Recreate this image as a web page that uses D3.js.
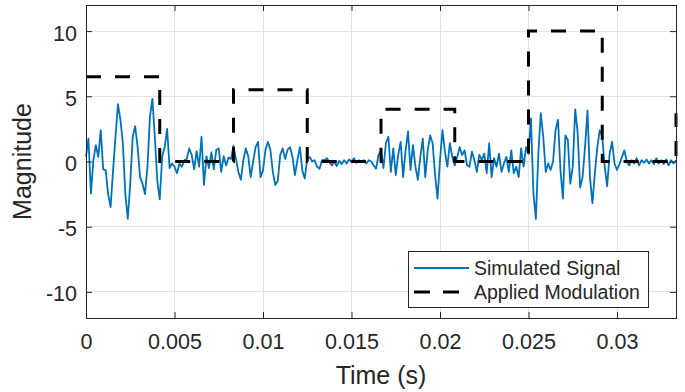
<!DOCTYPE html>
<html>
<head>
<meta charset="utf-8">
<script src="https://cdn.jsdelivr.net/npm/d3@7"></script>
<style>
  body { margin: 0; background: #fff; }
  svg text { font-family: "Liberation Sans", Arial, sans-serif; fill: #262626; }
</style>
</head>
<body>
<div id="chart"></div>
<script>
// ---- data ----
var sampleRate = 7200; // samples per second
var signal = [
  0.36, 1.76, -2.46, 0.1, 1.25, 0.36, 2.4, -0.6, -0.66, -2.5,
  -3.5, -0.7, 1.9, 4.4, 3.2, 1.4, -2.5, -4.4, -1.7, 1.9,
  2.7, 1.1, -1.2, -1.7, -2.5, -0.4, 3.4, 4.8, 1.9, -1.5,
  -2.9, 0.4, 1.1, 2.5, -0.5, -0.15, -0.4, -0.9, -0.15, -0.4,
  0.1, 0.2, 1.0, 0.5, -0.6, 0.8, -0.4, 1.9, -1.8, 0.4,
  -0.5, 0.7, -0.6, 0.9, 1.0, -0.8, 0.4, -0.3, 0.3, 0.2,
  1.2, 0.2, -0.8, -1.4, 0.1, 1.0, 0.4, -1.2, 0.0, 1.1,
  1.5, -1.2, -0.7, 0.9, 1.5, 0.9, -0.8, -1.8, -1.5, 0.5,
  1.0, 0.2, 0.9, 1.1, 0.35, -1.05, 0.1, 1.1, -0.7, -1.3,
  0.25, 0.35, 0, 0.1, -0.4, -0.55, 0.1, 0.1, 0.25, -0.05,
  -0.3, 0, -0.35, 0.05, -0.2, 0.1, -0.15, 0.15, 0, 0.25,
  -0.1, 0.1, 0, 0.1, -0.15, 0.1, 0, -0.3, -0.55, 0.5,
  0.85, -0.5, 1.4, 1.9, -0.8, 1.0, -1.05, 0.5, 1.5, -1.2,
  0.85, 2.3, -0.65, 1.25, -0.4, -1.4, 0.35, 1.75, -1.2, 0.85,
  2.0, 1.4, -1.05, -2.85, 0.1, 2.4, 0.75, -0.4, 1.4, 0.35,
  -0.3, 0.35, 1.1, 0.5, 0.85, -0.3, -0.4, 0.75, 0.1, -0.8,
  0.5, 0.1, 0.6, -0.9, 1.4, -1.2, 0.25, -0.4, 0.6, -0.8,
  -0.15, 0.35, -0.8, 0.85, -0.9, -0.4, -1.2, 1.0, -0.4, 1.1,
  0.6, 3.3, -2.45, -4.4, 0.6, 3.7, 1.9, -0.8, -0.15, -0.65,
  0, 2.4, 3.2, -0.65, -2.85, 2.0, 1.65, -1.7, -0.4, 4.0,
  2.2, -2.0, -1.2, 1.1, 3.9, -1.2, -3.2, -0.9, 1.1, 2.4,
  1.9, -0.4, -1.9, 0.6, 1.5, -0.15, -0.65, -0.2, 0.35, 0.85,
  0, -0.3, 0.1, -0.15, 0.25, -0.3, 0.1, -0.1, 0.15, -0.15,
  0.1, -0.2, 0.25, -0.15, 0.1, -0.2, 0.15, -0.3, 0.1, -0.15,
  0.1
];

// modulation: level starting at each edge
var modEdges = [0, 0.0041667, 0.0083333, 0.0125, 0.0166667, 0.0208333, 0.025, 0.0291667, 0.0333333];
var modLevels = [6.5, 0, 5.5, 0, 4, 0, 10, 0, 3.7];

var xTicks = [0, 0.005, 0.01, 0.015, 0.02, 0.025, 0.03];
var xTickLabels = ["0", "0.005", "0.01", "0.015", "0.02", "0.025", "0.03"];
var yTicks = [-10, -5, 0, 5, 10];
var yTickLabels = ["-10", "-5", "0", "5", "10"];
var seriesNames = ["Simulated Signal", "Applied Modulation"];

// ---- layout ----
var svgWidth = 685;
var svgHeight = 392;
var margin = { top: 5, right: 9, bottom: 74, left: 86 };
var width = svgWidth - margin.left - margin.right;
var height = svgHeight - margin.top - margin.bottom;

var svg = d3.select("#chart")
  .append("svg")
  .attr("width", svgWidth)
  .attr("height", svgHeight);

var chartGroup = svg.append("g")
  .attr("transform", `translate(${margin.left},${margin.top})`);

var xScale = d3.scaleLinear().domain([0, 1 / 30]).range([0, width]);
var yScale = d3.scaleLinear().domain([-12, 12]).range([height, 0]);

// grid
chartGroup.append("g")
  .selectAll("line.gx")
  .data(xTicks)
  .enter()
  .append("line")
  .attr("x1", d => xScale(d)).attr("x2", d => xScale(d))
  .attr("y1", 0).attr("y2", height)
  .attr("stroke", "#e3e3e3")
  .attr("shape-rendering", "crispEdges");

chartGroup.append("g")
  .selectAll("line.gy")
  .data(yTicks)
  .enter()
  .append("line")
  .attr("x1", 0).attr("x2", width)
  .attr("y1", d => yScale(d)).attr("y2", d => yScale(d))
  .attr("stroke", "#e3e3e3")
  .attr("shape-rendering", "crispEdges");

// clip
chartGroup.append("clipPath")
  .attr("id", "plotClip")
  .append("rect")
  .attr("x", -2).attr("y", -2)
  .attr("width", width + 4).attr("height", height + 4);

var plot = chartGroup.append("g").attr("clip-path", "url(#plotClip)");

// signal line
var signalLine = d3.line()
  .x((d, i) => xScale(i / sampleRate))
  .y(d => yScale(d));

plot.append("path")
  .datum(signal)
  .attr("d", signalLine)
  .attr("fill", "none")
  .attr("stroke", "#0072BD")
  .attr("stroke-width", 1.8)
  .attr("stroke-linejoin", "round");

// modulation step
var modLine = d3.line()
  .x(d => xScale(d[0]))
  .y(d => yScale(d[1]))
  .curve(d3.curveStepAfter);

plot.append("path")
  .datum(modEdges.map((e, i) => [e, modLevels[i]]))
  .attr("d", modLine)
  .attr("fill", "none")
  .attr("stroke", "#000")
  .attr("stroke-width", 3)
  .attr("stroke-dasharray", "15,14");

// axes (ticks inward, box on)
var bottomAxis = d3.axisBottom(xScale)
  .tickValues(xTicks)
  .tickSize(-6)
  .tickPadding(16)
  .tickFormat((d, i) => xTickLabels[i]);
var topAxis = d3.axisTop(xScale).tickValues(xTicks).tickSize(-6).tickFormat("");
var leftAxis = d3.axisLeft(yScale)
  .tickValues(yTicks)
  .tickSize(-6)
  .tickPadding(9)
  .tickFormat((d, i) => yTickLabels[i]);
var rightAxis = d3.axisRight(yScale).tickValues(yTicks).tickSize(-6).tickFormat("");

function styleAxis(g) {
  g.select(".domain").remove();
  g.selectAll(".tick line").attr("stroke", "#262626");
  g.selectAll(".tick text")
    .attr("fill", "#262626")
    .style("font-size", "21.5px")
    .style("font-family", "'Liberation Sans', Arial, sans-serif");
}

chartGroup.append("g").attr("transform", `translate(0,${height})`).call(bottomAxis).call(styleAxis);
chartGroup.append("g").call(topAxis).call(styleAxis);
chartGroup.append("g").call(leftAxis).call(styleAxis)
  .selectAll(".tick text").attr("dy", "0.42em");
chartGroup.append("g").attr("transform", `translate(${width},0)`).call(rightAxis).call(styleAxis);

chartGroup.append("rect")
  .attr("x", 0.5).attr("y", 0.5)
  .attr("width", width).attr("height", height)
  .attr("fill", "none")
  .attr("stroke", "#262626")
  .attr("stroke-width", 1)
  .attr("shape-rendering", "crispEdges");

// axis labels
chartGroup.append("text")
  .attr("transform", "rotate(-90)")
  .attr("x", -height / 2)
  .attr("y", -margin.left + 31)
  .style("text-anchor", "middle")
  .style("font-size", "25px")
  .text("Magnitude");

chartGroup.append("text")
  .attr("x", width / 2)
  .attr("y", height + 66)
  .style("text-anchor", "middle")
  .style("font-size", "25px")
  .text("Time (s)");

// legend
var legend = svg.append("g").attr("transform", "translate(408,251)");
legend.append("rect")
  .attr("x", 0.5).attr("y", 0.5)
  .attr("width", 240).attr("height", 56)
  .attr("fill", "#fff")
  .attr("stroke", "#262626")
  .attr("stroke-width", 1);

legend.append("line")
  .attr("x1", 6).attr("x2", 61)
  .attr("y1", 17).attr("y2", 17)
  .attr("stroke", "#0072BD")
  .attr("stroke-width", 1.8);
legend.append("line")
  .attr("x1", 6).attr("x2", 61)
  .attr("y1", 41).attr("y2", 41)
  .attr("stroke", "#000")
  .attr("stroke-width", 3)
  .attr("stroke-dasharray", "16,13");

legend.selectAll("text.leg")
  .data(seriesNames)
  .enter()
  .append("text")
  .attr("x", 66)
  .attr("y", (d, i) => 24 + i * 24)
  .style("font-size", "19.5px")
  .text(d => d);
</script>
</body>
</html>
